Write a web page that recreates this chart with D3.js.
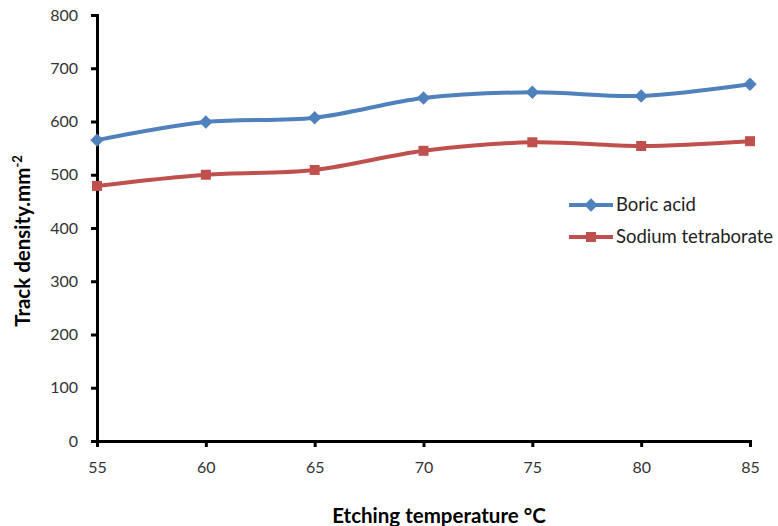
<!DOCTYPE html>
<html><head><meta charset="utf-8">
<script src="https://cdn.jsdelivr.net/npm/d3@7"></script>
<style>body{margin:0;background:#fff}svg{display:block}</style>
</head><body>
<script>
const temperatures = [55, 60, 65, 70, 75, 80, 85];
const boricAcid = [565, 599, 607, 644, 655, 648, 670];
const sodiumTetraborate = [479, 500, 509, 545, 561, 554, 563];
const yTicks = [0, 100, 200, 300, 400, 500, 600, 700, 800];
const seriesNames = ["Boric acid", "Sodium tetraborate"];

const W = 778, H = 526;
const svg = d3.select("body").append("svg").attr("width", W).attr("height", H);
const x = d3.scaleLinear().domain([55, 85]).range([97, 750]);
const y = d3.scaleLinear().domain([0, 800]).range([441, 15]);
const font = "Lato, 'Open Sans', sans-serif";

// axes
const xAxis = svg.append("g").attr("transform", "translate(0,441)")
  .call(d3.axisBottom(x).tickValues(temperatures).tickSize(6).tickPadding(12).tickFormat(d3.format("d")));
const yAxis = svg.append("g").attr("transform", "translate(97,0)")
  .call(d3.axisLeft(y).tickValues(yTicks).tickSize(6).tickPadding(13));
[xAxis, yAxis].forEach(g => {
  g.select(".domain").attr("stroke", "#000").attr("stroke-width", 3);
  g.selectAll(".tick line").attr("stroke", "#000").attr("stroke-width", 3);
  g.selectAll(".tick text").attr("fill", "#333").style("font-family", font).style("font-size", "16px");
});
xAxis.selectAll(".tick text").attr("dy", "0.9em");

svg.append("text").attr("x", 439).attr("y", 523).attr("text-anchor", "middle")
  .style("font-family", font).style("font-weight", "bold").style("font-size", "20.5px")
  .text("Etching temperature °C");
const yt = svg.append("text").attr("transform", "translate(30,241) rotate(-90)").attr("text-anchor", "middle")
  .style("font-family", font).style("font-weight", "bold").style("font-size", "20.5px");
yt.append("tspan").text("Track density.mm");
yt.append("tspan").attr("dy", "-8").style("font-size", "13px").text("-2");

const diamond = {draw(ctx, size) { const r = Math.sqrt(size / 2); ctx.moveTo(0, -r); ctx.lineTo(r, 0); ctx.lineTo(0, r); ctx.lineTo(-r, 0); ctx.closePath(); }};
const series = [
  {name: seriesNames[0], values: boricAcid, color: "#4F81BD", shape: diamond, size: 90},
  {name: seriesNames[1], values: sodiumTetraborate, color: "#C0504D", shape: d3.symbolSquare, size: 100}
];
const line = d3.line().x((d, i) => x(temperatures[i])).y(d => y(d)).curve(d3.curveCardinal.tension(0));
series.forEach(s => {
  svg.append("path").datum(s.values).attr("d", line).attr("fill", "none")
    .attr("stroke", s.color).attr("stroke-width", 4);
  svg.selectAll(null).data(s.values).enter().append("path")
    .attr("d", d3.symbol().type(s.shape).size(s.size))
    .attr("transform", (d, i) => `translate(${x(temperatures[i])},${y(d)})`)
    .attr("fill", s.color);
});

// legend
const leg = svg.append("g");
series.forEach((s, i) => {
  const ly = 205 + i * 32;
  leg.append("line").attr("x1", 569).attr("x2", 613).attr("y1", ly).attr("y2", ly)
    .attr("stroke", s.color).attr("stroke-width", 4);
  leg.append("path").attr("d", d3.symbol().type(s.shape).size(s.size))
    .attr("transform", `translate(591,${ly})`).attr("fill", s.color);
  leg.append("text").attr("x", 616).attr("y", ly).attr("dy", "0.35em")
    .style("font-family", font).style("font-size", "18.5px").attr("fill", "#222").text(s.name);
});
</script>
</body></html>
